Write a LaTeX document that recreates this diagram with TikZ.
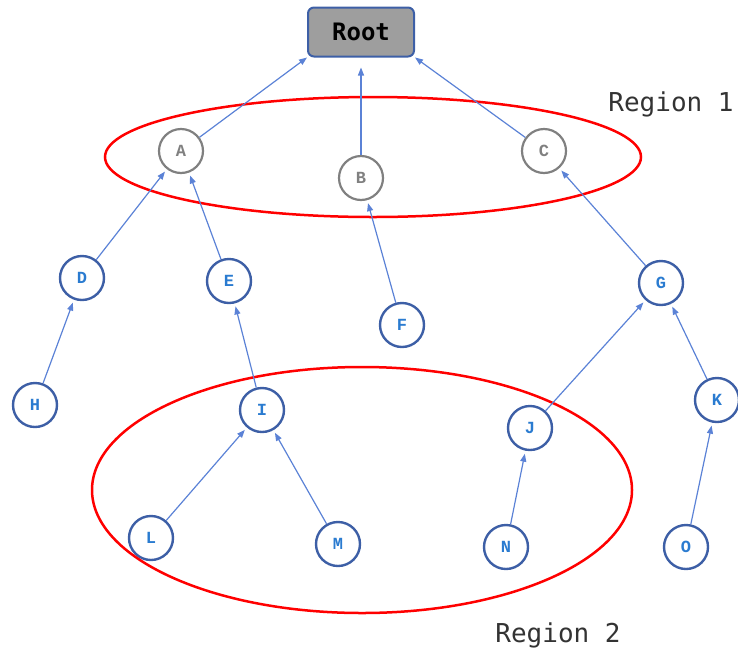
\documentclass[tikz,border=0pt]{standalone}
\usepackage{fontspec}
\newfontfamily\dejamono{DejaVu Sans Mono}
\newfontfamily\libmono{Liberation Mono}
\usetikzlibrary{arrows.meta}
\definecolor{nodeblue}{HTML}{3D5FA6}
\definecolor{txtblue}{HTML}{2A7BD0}
\definecolor{arrblue}{HTML}{5B82D6}
\definecolor{greyc}{HTML}{808080}
\begin{document}
\begin{tikzpicture}[x=1pt,y=-1pt,
  bnode/.style={circle,draw=nodeblue,line width=2.4pt,minimum size=44pt,inner sep=0pt,text=txtblue,font=\libmono\bfseries\fontsize{17}{17}\selectfont},
  gnode/.style={circle,draw=greyc,line width=2.2pt,minimum size=44pt,inner sep=0pt,text=greyc,font=\libmono\bfseries\fontsize{17}{17}\selectfont},
  arr/.style={draw=arrblue,line width=1.2pt,-{Triangle[length=8pt,width=6pt]}},
  region/.style={draw=red,line width=2.5pt},
  lbl/.style={font=\dejamono\fontsize{26}{26}\selectfont,text=black!80}]
\useasboundingbox (0,0) rectangle (738,651);
\node[draw=nodeblue,fill=black!38,line width=2pt,rounded corners=6pt,minimum width=106pt,minimum height=49pt,inner sep=0pt,font=\dejamono\bfseries\fontsize{24}{24}\selectfont] (Root) at (361,32) {Root};
\node[gnode] (A) at (181,151) {A};
\node[gnode] (B) at (361,178) {B};
\node[gnode] (C) at (544,151) {C};
\node[bnode] (D) at (82,278) {D};
\node[bnode] (E) at (229,281) {E};
\node[bnode] (F) at (402,325) {F};
\node[bnode] (G) at (661,283) {G};
\node[bnode] (H) at (35,405) {H};
\node[bnode] (I) at (262,410) {I};
\node[bnode] (J) at (530,428) {J};
\node[bnode] (K) at (717,400) {K};
\node[bnode] (L) at (151,538) {L};
\node[bnode] (M) at (338,544) {M};
\node[bnode] (N) at (506,547) {N};
\node[bnode] (O) at (686,547) {O};
\draw[region] (373,157) ellipse [x radius=268, y radius=60];
\draw[region] (362,490) ellipse [x radius=270, y radius=123];
\node[lbl] (R1) at (671,104) {Region 1};
\node[lbl] (R2) at (558,635) {Region 2};
\draw[arr] (A) -- (Root.south west);
\draw[arr,shorten >=10pt,shorten <=0pt] (B) -- (Root);
\draw[arr] (C) -- (Root.south east);
\draw[arr,shorten >=3pt] (D) -- (A);
\draw[arr,shorten >=3pt] (E) -- (A);
\draw[arr,shorten >=3pt] (F) -- (B);
\draw[arr,shorten >=3pt] (G) -- (C);
\draw[arr,shorten >=3pt] (H) -- (D);
\draw[arr,shorten >=3pt] (I) -- (E);
\draw[arr,shorten >=3pt] (J) -- (G);
\draw[arr,shorten >=3pt] (K) -- (G);
\draw[arr,shorten >=3pt] (L) -- (I);
\draw[arr,shorten >=3pt] (M) -- (I);
\draw[arr,shorten >=3pt] (N) -- (J);
\draw[arr,shorten >=3pt] (O) -- (K);
\end{tikzpicture}
\end{document}
